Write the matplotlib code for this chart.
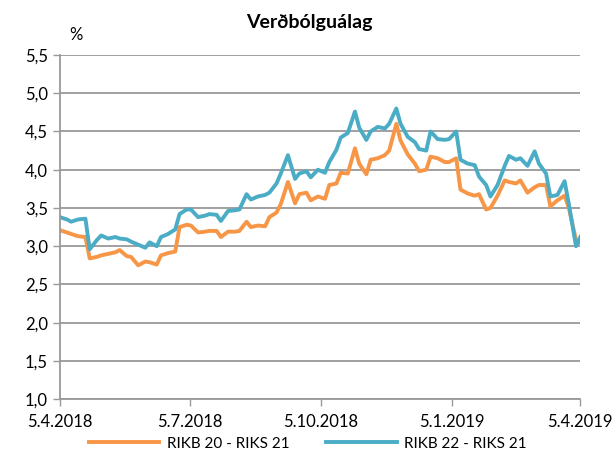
import matplotlib
matplotlib.use("Agg")
import matplotlib.pyplot as plt
import matplotlib.dates as mdates
from matplotlib.ticker import FuncFormatter, MultipleLocator
import pandas as pd

# ---------------------------------------------------------------------------
# Data (every third business day)
# ---------------------------------------------------------------------------
dates = pd.bdate_range("2018-04-05", "2019-04-05")[::3]

rikb20 = [
    3.21, 3.18, 3.16, 3.13, 3.12, 2.84, 2.86, 2.88, 2.90, 2.92,
    2.95, 2.87, 2.86, 2.75, 2.80, 2.79, 2.76, 2.88, 2.91, 2.93,
    3.25, 3.28, 3.27, 3.18, 3.19, 3.20, 3.20, 3.12, 3.19, 3.19,
    3.20, 3.32, 3.25, 3.27, 3.26, 3.38, 3.44, 3.55, 3.84, 3.56,
    3.68, 3.70, 3.60, 3.65, 3.62, 3.80, 3.82, 3.96, 3.95, 4.28,
    4.08, 3.94, 4.13, 4.15, 4.19, 4.25, 4.60, 4.38, 4.20, 4.08,
    3.98, 4.00, 4.17, 4.15, 4.10, 4.10, 4.15, 3.74, 3.69, 3.66,
    3.68, 3.48, 3.50, 3.66, 3.86, 3.84, 3.82, 3.86, 3.70, 3.77,
    3.80, 3.80, 3.52, 3.60, 3.66, 3.50, 3.08, 3.04,
]
rikb22 = [
    3.38, 3.35, 3.32, 3.35, 3.36, 2.96, 3.08, 3.14, 3.10, 3.12,
    3.10, 3.09, 3.06, 3.02, 2.98, 3.05, 3.00, 3.12, 3.16, 3.22,
    3.42, 3.48, 3.48, 3.38, 3.40, 3.42, 3.41, 3.33, 3.46, 3.47,
    3.48, 3.68, 3.61, 3.65, 3.67, 3.70, 3.82, 3.95, 4.19, 3.88,
    3.95, 3.98, 3.90, 4.00, 3.96, 4.10, 4.26, 4.42, 4.48, 4.76,
    4.55, 4.39, 4.50, 4.56, 4.54, 4.60, 4.80, 4.60, 4.43, 4.36,
    4.27, 4.25, 4.50, 4.40, 4.39, 4.40, 4.50, 4.13, 4.08, 4.06,
    3.91, 3.80, 3.65, 3.80, 4.05, 4.18, 4.13, 4.15, 4.05, 4.24,
    4.08, 3.95, 3.65, 3.67, 3.85, 3.55, 3.00, 3.12,
]

labels = ["RIKB 20 - RIKS 21", "RIKB 22 - RIKS 21"]
colors = ["#F79646", "#4BACC6"]
tick_dates = pd.to_datetime(["2018-04-05", "2018-07-05", "2018-10-05",
                             "2019-01-05", "2019-04-05"])

# ---------------------------------------------------------------------------
# Figure
# ---------------------------------------------------------------------------
plt.rcParams["font.family"] = ["Lato", "DejaVu Sans"]
fig, ax = plt.subplots(figsize=(6.16, 4.62), dpi=100)
fig.subplots_adjust(left=0.097, right=0.942, top=0.881, bottom=0.136)

for series, label, color in zip([rikb20, rikb22], labels, colors):
    ax.plot(dates, series, color=color, lw=2.8, label=label,
            solid_joinstyle="round")

ax.set_ylim(1.0, 5.5)
ax.set_xlim(tick_dates[0], tick_dates[-1])
ax.yaxis.set_major_locator(MultipleLocator(0.5))
ax.yaxis.set_major_formatter(FuncFormatter(lambda v, _: f"{v:.1f}".replace(".", ",")))
ax.set_xticks(tick_dates)
ax.xaxis.set_major_formatter(FuncFormatter(
    lambda v, _: (lambda d: f"{d.day}.{d.month}.{d.year}")(mdates.num2date(v))))

ax.grid(axis="y", color="#999999", lw=1.3)
ax.set_axisbelow(True)
for side in ["top", "right"]:
    ax.spines[side].set_visible(False)
for side in ["left", "bottom"]:
    ax.spines[side].set_color("#999999")
    ax.spines[side].set_linewidth(1.3)
ax.tick_params(axis="both", colors="#999999", length=5, width=1.0,
               labelcolor="black", labelsize=12)
ax.tick_params(axis="x", pad=6)

fig.text(0.503, 0.952, "Verðbólguálag", ha="center", va="center",
         fontsize=14, fontweight="bold")
ax.text(0.018, 1.035, "%", transform=ax.transAxes, ha="left", va="bottom",
        fontsize=12)

fig.legend(loc="lower center", bbox_to_anchor=(0.5, -0.005), ncol=2,
           frameon=False, fontsize=11, handlelength=4.6, columnspacing=2.4,
           handletextpad=0.5)

fig.savefig("out.png")
